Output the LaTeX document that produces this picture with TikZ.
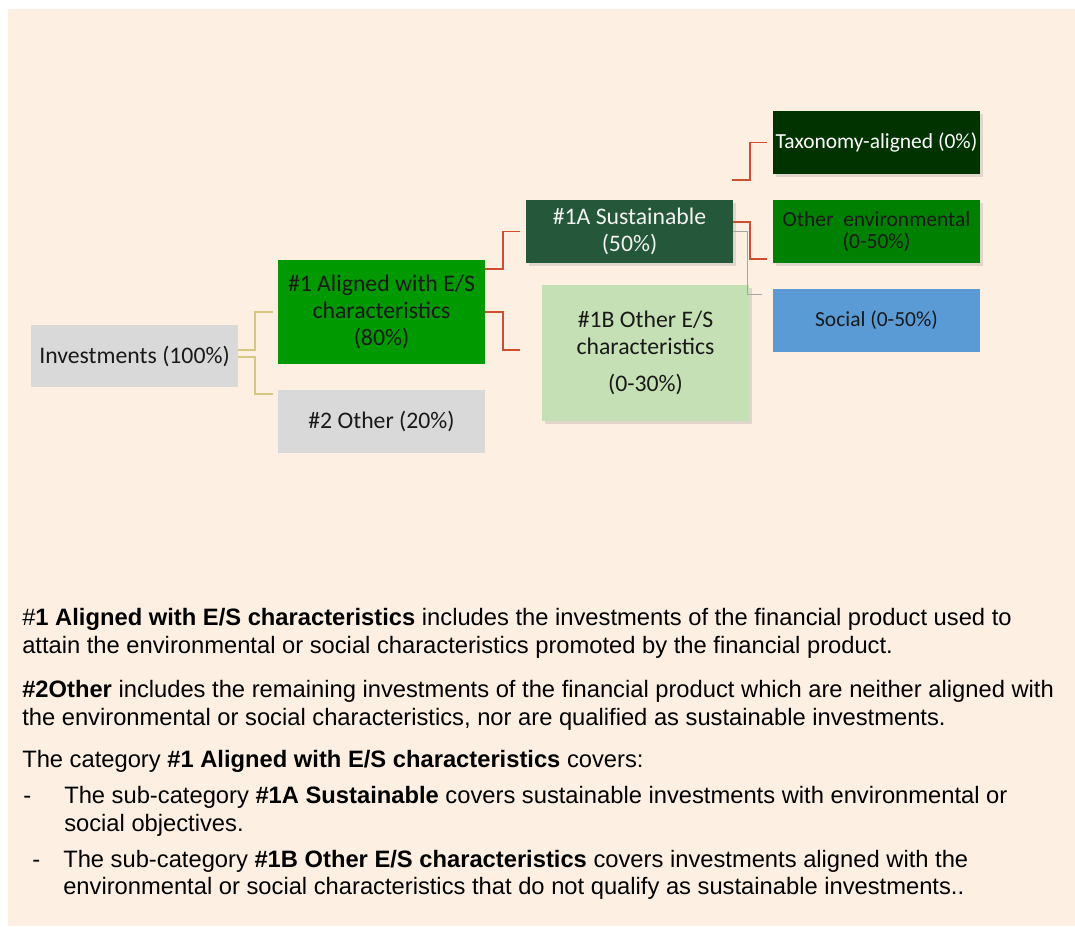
\documentclass[tikz,border=0pt]{standalone}
\usepackage{fontspec}
\setmainfont{Liberation Sans}
\newfontfamily\boxfont{Carlito}
\usetikzlibrary{shadows,calc}
\definecolor{bgbeige}{RGB}{253,239,226}
\definecolor{boxgray}{RGB}{217,217,217}
\definecolor{algreen}{RGB}{0,153,0}
\definecolor{susgreen}{RGB}{37,87,58}
\definecolor{oesgreen}{RGB}{197,224,180}
\definecolor{taxgreen}{RGB}{0,51,0}
\definecolor{envgreen}{RGB}{0,128,0}
\definecolor{socblue}{RGB}{91,155,213}
\definecolor{lnred}{RGB}{208,78,45}
\definecolor{lnkhaki}{RGB}{214,200,128}
\definecolor{lngray}{RGB}{166,166,166}

\begin{document}
\begin{tikzpicture}[x=0.75pt, y=-0.75pt,
	box/.style={font=\boxfont\fontsize{17.8}{20}\selectfont, align=center, inner sep=0pt, text=black!90, minimum width=155.25pt, minimum height=47.25pt},
	small/.style={font=\boxfont\fontsize{16.1}{16.5}\selectfont},
	shade/.style={drop shadow={opacity=0.22, shadow xshift=2pt, shadow yshift=-2.5pt}},
	body/.style={anchor=base west, inner sep=0pt, font=\fontsize{17.8}{20}\selectfont},
	khaki/.style={draw=lnkhaki, line width=1.2pt},
	redline/.style={draw=lnred, line width=1.2pt},
	grayline/.style={draw=lngray, line width=0.8pt}]
	\useasboundingbox (0,0) rectangle (1075,926);
	\fill[bgbeige] (8,9) rectangle (1075,926);

	% boxes
	\node[box, fill=boxgray, minimum height=46.5pt] (inv) at (134.5,356) {Investments (100\%)};
	\node[box, fill=algreen, minimum height=78pt] (al) at (381.5,312) {\#1 Aligned with E/S\\characteristics\\(80\%)};
	\node[box, fill=boxgray] (oth) at (381.5,421.5) {\#2 Other (20\%)};
	\node[box, shade, fill=susgreen, text=white!95!black] (sus) at (629.5,231.5) {\#1A Sustainable\\(50\%)};
	\node[box, shade, fill=oesgreen, minimum height=102pt] (oes) at (645.5,353) {\#1B Other E/S\\characteristics\\[7.5pt](0-30\%)};
	\node[box, small, shade, fill=taxgreen, text=white] (tax) at (876.5,142.5) {Taxonomy-aligned (0\%)};
	\node[box, small, shade, fill=envgreen] (env) at (876.5,231.5) {Other\ \ environmental\\(0-50\%)};
	\node[box, small, fill=socblue] (soc) at (876.5,320.5) {Social (0-50\%)};
	\coordinate (taxin) at (732,180);

	% connectors
	\draw[khaki] ($(inv.east)+(0,-6)$) -- ++(17,0) |- ($(al.west)+(-5,0)$);
	\draw[khaki] ($(inv.east)+(0,1)$) -- ++(17,0) |- ($(oth.north west)+(-5,4)$);
	\draw[redline] ($(al.north east)+(0,9)$) -- ++(18,0) |- ($(sus.west)+(-6,0)$);
	\draw[redline] (al.east) -- ++(18,0) |- ($(oes.west)+(-22,-3)$);
	\draw[redline] ($(sus.east)+(0,-9.5)$) -- ++(17,0) |- ($(env.south west)+(-6,-4)$);
	\draw[grayline] (sus.east) -- ++(14,0) |- ($(soc.north west)+(-11,6)$);
	\draw[redline] (taxin) -- ++(18,0) |- ($(tax.west)+(-6,0)$);

	% explanation
	\node[body] (p1a) at (22,625) {\#\textbf{1 Aligned with E/S characteristics} includes the investments of the financial product used to};
	\node[body] (p1b) at (22,653) {attain the environmental or social characteristics promoted by the financial product.};
	\node[body] (p2a) at (22,697) {\textbf{\#2Other} includes the remaining investments of the financial product which are neither aligned with};
	\node[body] (p2b) at (22,725) {the environmental or social characteristics, nor are qualified as sustainable investments.};
	\node[body] (p3) at (22,767) {The category \textbf{\#1 Aligned with E/S characteristics} covers:};
	\node[body] (d1) at (23,803) {-};
	\node[body] (b1a) at (64,803) {The sub-category \textbf{\#1A Sustainable} covers sustainable investments with environmental or};
	\node[body] (b1b) at (64,831) {social objectives.};
	\node[body] (d2) at (32,867) {-};
	\node[body] (b2a) at (63,867) {The sub-category \textbf{\#1B Other E/S characteristics} covers investments aligned with the};
	\node[body] (b2b) at (63,894) {environmental or social characteristics that do not qualify as sustainable investments..};
\end{tikzpicture}
\end{document}
